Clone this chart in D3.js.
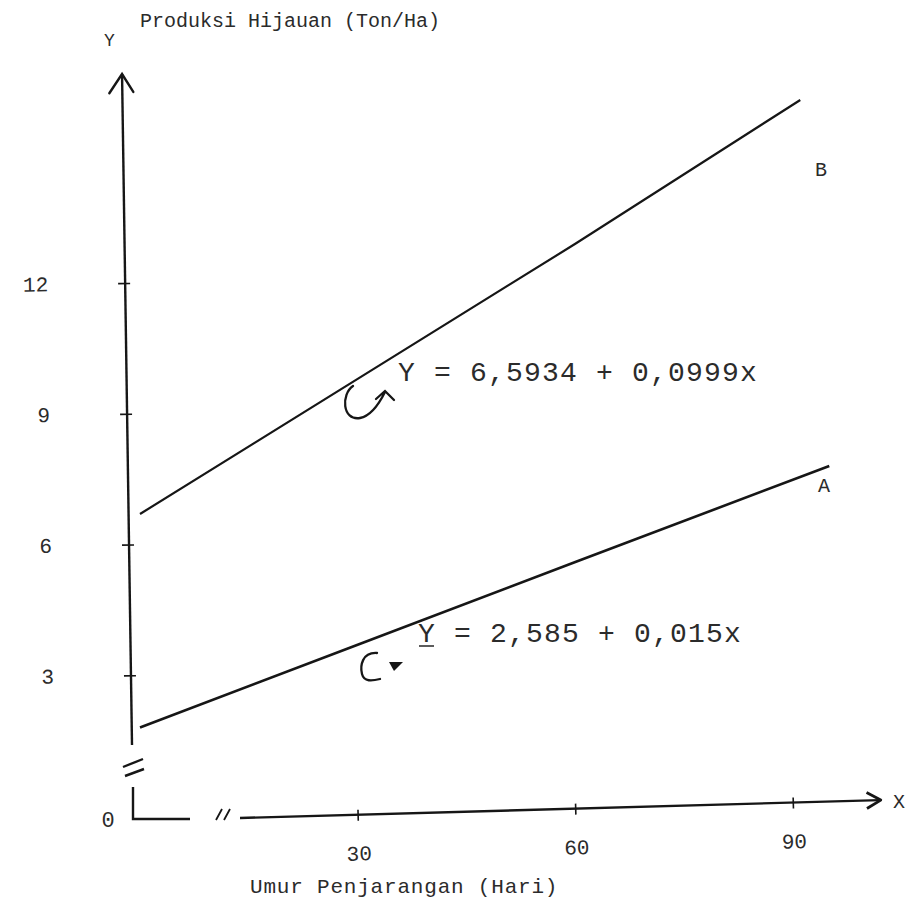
<!DOCTYPE html>
<html>
<head>
<meta charset="utf-8">
<script src="https://cdn.jsdelivr.net/npm/d3@7"></script>
<style>
  html, body { margin: 0; padding: 0; background: #fff; }
  svg { display: block; }
  text { font-family: "Liberation Mono", "DejaVu Sans Mono", monospace; fill: #2b2b2b; }
</style>
</head>
<body>
<svg id="chart" width="914" height="916"></svg>
<script>
// Tick values on both axes
const xTickValues = [30, 60, 90];
const yTickValues = [3, 6, 9, 12];

// Line A (lower) and line B (upper): age in days, yield in ton/ha
const daysA = [0, 30, 60, 95];
const yieldA = [1.8, 3.7, 5.6, 7.8];
const daysB = [0, 30, 60, 91];
const yieldB = [6.7, 9.8, 12.9, 16.2];

const seriesLabels = ["A", "B"];
const equationA = "Y = 2,585 + 0,015x";
const equationB = "Y = 6,5934 + 0,0999x";
const titleY = "Produksi Hijauan (Ton/Ha)";
const titleX = "Umur Penjarangan (Hari)";

const svg = d3.select("#chart");
const ink = "#161616";

const x = d3.scaleLinear().domain([0, 90]).range([140, 793]);
const y = d3.scaleLinear().domain([0, 12]).range([806, 283]);

// ---- Y axis (hand-drawn, leaning slightly) ----
const yAxisG = svg.append("g")
  .attr("transform", "translate(132,0) rotate(-0.85,0,745)");

yAxisG.call(d3.axisLeft(y).tickValues(yTickValues).tickSizeInner(7).tickSizeOuter(0).tickPadding(70));
yAxisG.select(".domain").remove();
yAxisG.selectAll(".tick line").attr("x1", 5).attr("stroke", ink).attr("stroke-width", 1.6);
yAxisG.selectAll(".tick text").attr("font-size", 21).attr("font-family", "Liberation Mono").attr("fill", "#333");

yAxisG.append("line").attr("x1", 0).attr("y1", 745).attr("x2", 0).attr("y2", 74)
  .attr("stroke", ink).attr("stroke-width", 2.4);
yAxisG.append("path").attr("d", "M-13,93 L0,74 L11,92")
  .attr("fill", "none").attr("stroke", ink).attr("stroke-width", 2.4).attr("stroke-linecap", "round");

// axis break and origin corner
svg.append("path").attr("d", "M123,767 L143,759 M125,776 L144,769")
  .attr("fill", "none").attr("stroke", ink).attr("stroke-width", 2.4);
svg.append("path").attr("d", "M133,787 L133,819 L190,819")
  .attr("fill", "none").attr("stroke", ink).attr("stroke-width", 2.4);
svg.append("path").attr("d", "M216,820 L222,809 M224,820 L230,809")
  .attr("fill", "none").attr("stroke", ink).attr("stroke-width", 1.8);
svg.append("text").attr("x", 108).attr("y", 827).attr("text-anchor", "middle")
  .attr("font-size", 22).text("0");

// ---- X axis (hand-drawn, rising slightly to the right) ----
const xAxisG = svg.append("g")
  .attr("transform", "translate(0,818) rotate(-1.6,240,0)");
xAxisG.call(d3.axisBottom(x).tickValues(xTickValues).tickSizeInner(6).tickSizeOuter(0).tickPadding(25));
xAxisG.select(".domain").remove();
xAxisG.selectAll(".tick line").attr("y1", -5).attr("stroke", ink).attr("stroke-width", 1.6);
xAxisG.selectAll(".tick text").attr("font-size", 21).attr("font-family", "Liberation Mono").attr("fill", "#333");
xAxisG.append("line").attr("x1", 240).attr("y1", 0).attr("x2", 880).attr("y2", 0)
  .attr("stroke", ink).attr("stroke-width", 2.4);
xAxisG.append("path").attr("d", "M867,-8 L881,0 L867,8")
  .attr("fill", "none").attr("stroke", ink).attr("stroke-width", 2.8).attr("stroke-linejoin", "round");
svg.append("text").attr("x", 893).attr("y", 808).attr("font-size", 20).text("X");

// axis titles
svg.append("text").attr("x", 104).attr("y", 46).attr("font-size", 18).text("Y");
svg.append("text").attr("x", 140).attr("y", 27).attr("font-size", 20).attr("fill", "#262626").text(titleY);
svg.append("text").attr("x", 250).attr("y", 893).attr("font-size", 21).attr("letter-spacing", 0.8).text(titleX);

// ---- regression lines ----
const line = d3.line().x(d => x(d[0])).y(d => y(d[1]));
svg.append("path").datum(d3.zip(daysB, yieldB)).attr("d", line)
  .attr("fill", "none").attr("stroke", ink).attr("stroke-width", 2.2);
svg.append("path").datum(d3.zip(daysA, yieldA)).attr("d", line)
  .attr("fill", "none").attr("stroke", ink).attr("stroke-width", 2.6);

// series labels
svg.append("text").attr("x", 815).attr("y", 176).attr("font-size", 20).text(seriesLabels[1]);
svg.append("text").attr("x", 818).attr("y", 492).attr("font-size", 20).text(seriesLabels[0]);

// equations with curled pointer arrows
svg.append("text").attr("x", 398).attr("y", 381).attr("font-size", 28).attr("letter-spacing", 1.2).text(equationB);
svg.append("path")
  .attr("d", "M353,386 C341,394 342,421 360,418 C371,416 379,404 385,392 M376,399 L385,391 L394,400")
  .attr("fill", "none").attr("stroke", ink).attr("stroke-width", 2.3).attr("stroke-linecap", "round");

svg.append("text").attr("x", 418).attr("y", 642).attr("font-size", 28).attr("letter-spacing", 1.2).text(equationA);
svg.append("line").attr("x1", 419).attr("y1", 646).attr("x2", 434).attr("y2", 646)
  .attr("stroke", "#333").attr("stroke-width", 1.6);
svg.append("path")
  .attr("d", "M377,653 C362,652 360,666 362,674 C364,682 372,681 380,679")
  .attr("fill", "none").attr("stroke", ink).attr("stroke-width", 2.3).attr("stroke-linecap", "round");
svg.append("path").attr("d", "M389,662 L403,662 L394,671 Z").attr("fill", ink);
</script>
</body>
</html>
